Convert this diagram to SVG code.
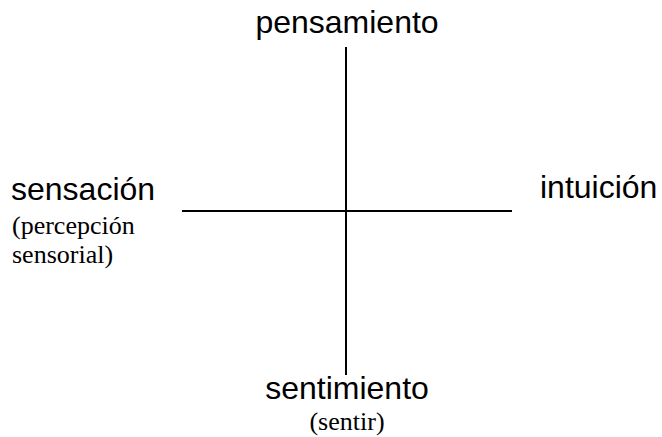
<svg xmlns="http://www.w3.org/2000/svg" width="662" height="437" viewBox="0 0 662 437">
<style>
.s{font-family:"Liberation Sans",Arial,sans-serif;font-size:32px;fill:#000}
.t{font-family:"Liberation Serif","Times New Roman",serif;font-size:26px;fill:#000}
.ax{stroke:#000;stroke-width:2;fill:none}
</style>
<rect width="662" height="437" fill="#fff"/>
<g id="connectors">
<line class="ax" x1="346" y1="47" x2="346" y2="375"/>
<line class="ax" x1="182" y1="211" x2="512" y2="211"/>
</g>
<g id="pensamiento"><text class="s" x="347" y="33" text-anchor="middle">pensamiento</text></g>
<g id="sensacion"><text class="s" x="11" y="200">sensación</text><text class="t" x="12" y="234">(percepción</text><text class="t" x="12" y="263">sensorial)</text></g>
<g id="intuicion"><text class="s" x="540" y="198">intuición</text></g>
<g id="sentimiento"><text class="s" x="347" y="399" text-anchor="middle">sentimiento</text><text class="t" x="347" y="430" text-anchor="middle">(sentir)</text></g>
</svg>
